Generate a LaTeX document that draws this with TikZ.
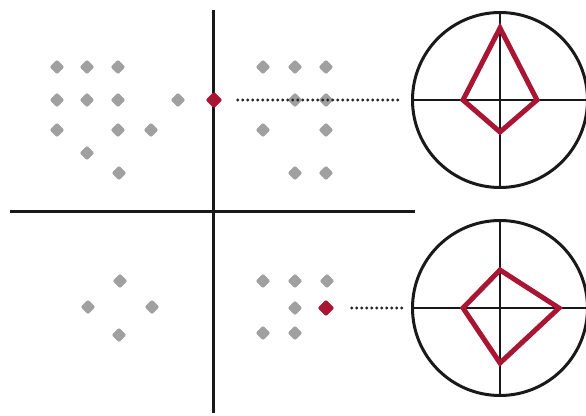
\documentclass[tikz,border=0pt]{standalone}
\usepackage{tikz}
\usetikzlibrary{shapes.geometric,positioning,calc}
\definecolor{crimson}{RGB}{168,22,52}
\definecolor{dotgray}{RGB}{160,160,160}

\begin{document}
\begin{tikzpicture}[
    x=1pt, y=1pt,
    pt_dot/.style={diamond, fill=dotgray, rounded corners=2pt, inner sep=0pt, minimum size=15pt},
    hit_dot/.style={diamond, fill=crimson, rounded corners=2pt, inner sep=0pt, minimum size=17pt},
    axis_line/.style={draw=black!90, line width=3pt},
    scope_circ/.style={circle, draw=black!90, line width=3pt, inner sep=0pt, outer sep=0pt, minimum size=175pt},
    cross_line/.style={draw=black!90, line width=2.6pt},
    shape_line/.style={draw=crimson, line width=5pt, line join=miter},
    link_line/.style={draw=black!85, line width=3.2pt, line cap=round, dash pattern=on 0pt off 5pt}
]
\useasboundingbox (0,0) rectangle (586,415);

% axes
\coordinate (ax_top) at (213,405);
\coordinate (ax_bot) at (213,2);
\coordinate (ax_left) at (10,203);
\coordinate (ax_right) at (415,203);
\draw[axis_line] (ax_top) -- (ax_bot);
\draw[axis_line] (ax_left) -- (ax_right);

% grey samples
\foreach \px/\py in {57/348, 87/348, 118/348, 57/315, 87/315, 118/315, 178/315,
                     57/285, 118/285, 151/285, 87/262, 119/242,
                     263/348, 295/348, 326/348, 295/315, 326/315, 263/285, 326/285,
                     295/242, 326/242,
                     120/134, 88/108, 152/108, 119/80,
                     263/134, 295/134, 327/134, 295/107, 263/82, 295/82}
    \node[pt_dot] at (\px,\py) {};

% selected samples
\node[hit_dot] (h1) at (214,315) {};
\node[hit_dot] (h2) at (326,107) {};

% scopes
\node[scope_circ] (c1) at (500,315) {};
\node[scope_circ] (c2) at (500,107) {};

\draw[cross_line] (c1.north) -- (c1.south);
\draw[cross_line] (c1.west) -- (c1.east);
\draw[cross_line] (c2.north) -- (c2.south);
\draw[cross_line] (c2.west) -- (c2.east);

\draw[shape_line] ($(c1)+(0,72)$) -- ($(c1)+(37,0)$) -- ($(c1)+(0,-32)$) -- ($(c1)+(-37,0)$) -- cycle;
\draw[shape_line] ($(c2)+(0,38)$) -- ($(c2)+(59,0)$) -- ($(c2)+(0,-55)$) -- ($(c2)+(-37,0)$) -- cycle;

% links
\draw[link_line, shorten <=15pt, shorten >=10pt] (h1.east) -- (c1.west);
\draw[link_line, shorten <=17pt, shorten >=10pt] (h2.east) -- (c2.west);

\end{tikzpicture}
\end{document}
